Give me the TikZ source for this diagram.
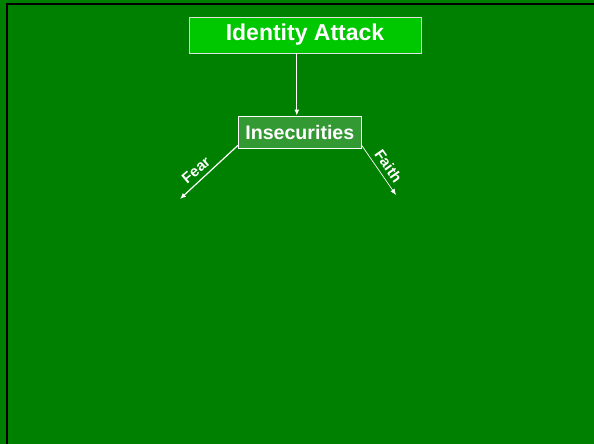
\documentclass[tikz,border=0pt]{standalone}
\usepackage{fontspec}
\setmainfont{Liberation Sans}
\usetikzlibrary{arrows.meta}
\definecolor{bggreen}{RGB}{0,128,0}
\definecolor{topgreen}{RGB}{0,200,0}
\definecolor{midgreen}{RGB}{51,153,51}
\definecolor{edgegray}{RGB}{225,225,225}
\tikzset{
  titlebox/.style={draw=edgegray, line width=0.8pt, fill=topgreen, text=white,
    font=\fontsize{23}{26}\selectfont\bfseries, minimum width=232pt, minimum height=36pt,
    inner sep=0pt},
  subbox/.style={draw=white, line width=0.8pt, fill=midgreen, text=white,
    font=\fontsize{19.6}{22}\selectfont\bfseries, minimum width=123pt, minimum height=32pt,
    inner sep=0pt},
  conn/.style={draw=white, line width=1.2pt, -{Latex[length=6pt,width=5pt]}},
  lbl/.style={text=white, font=\fontsize{15}{17}\selectfont\bfseries, inner sep=0pt}
}
\begin{document}
\begin{tikzpicture}[x=1pt,y=-1pt]
  \fill[bggreen] (0,0) rectangle (594,444);
  \useasboundingbox (0,0) rectangle (594,444);
  \fill[black] (6,3) rectangle (594,5);
  \fill[black] (6,3) rectangle (8,444);
  \node[titlebox] (ia) at (305,35) {Identity Attack};
  \node[subbox] (ins) at (299.8,132) {Insecurities};
  \coordinate (fearend) at (180,199);
  \coordinate (faithend) at (396,195);
  \draw[conn] ([xshift=-3pt]ia.south -| ins.north) -- ([xshift=-3pt]ins.north);
  \draw[conn] ([yshift=3pt]ins.south west) -- (fearend);
  \draw[conn, line width=0.7pt] ([yshift=3pt]ins.south east) -- (faithend);
  \node[lbl, rotate=40] (fear) at (196,170) {Fear};
  \node[lbl, rotate=-55] (faith) at (388.5,166) {Faith};
\end{tikzpicture}
\end{document}
